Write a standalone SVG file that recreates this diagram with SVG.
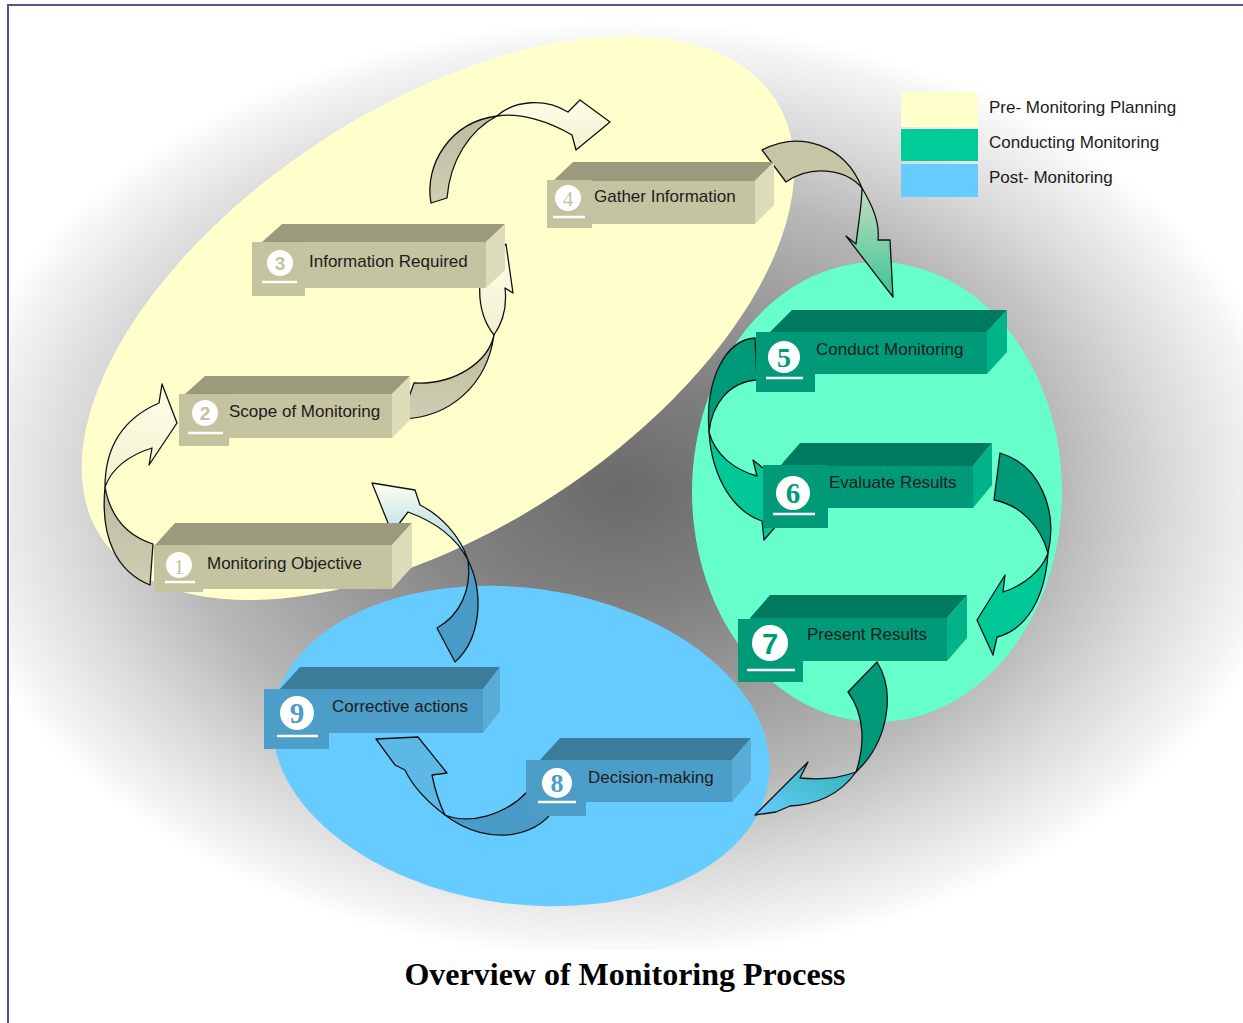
<svg xmlns="http://www.w3.org/2000/svg" width="1243" height="1023" viewBox="0 0 1243 1023">
  <defs>
    <radialGradient id="haze" gradientUnits="userSpaceOnUse" cx="620" cy="490" r="1" gradientTransform="translate(620 490) scale(680 470) translate(-620 -490)">
      <stop offset="0" stop-color="#6a6a6a"/>
      <stop offset="0.25" stop-color="#808080"/>
      <stop offset="0.5" stop-color="#a2a2a2"/>
      <stop offset="0.65" stop-color="#b8b8b8"/>
      <stop offset="0.8" stop-color="#d8d8d8"/>
      <stop offset="0.95" stop-color="#f4f4f4"/>
      <stop offset="1" stop-color="#ffffff"/>
    </radialGradient>
    <linearGradient id="tanBack" x1="0" y1="0" x2="0" y2="1">
      <stop offset="0" stop-color="#bdbca0"/>
      <stop offset="1" stop-color="#cfceb2"/>
    </linearGradient>
    <linearGradient id="paleFront" x1="0" y1="0" x2="0" y2="1">
      <stop offset="0" stop-color="#ffffe8"/>
      <stop offset="1" stop-color="#f0f0d0"/>
    </linearGradient>
    <linearGradient id="tanToGreen" x1="0" y1="0" x2="0" y2="1">
      <stop offset="0" stop-color="#c6dcc0"/>
      <stop offset="1" stop-color="#38c696"/>
    </linearGradient>
    <linearGradient id="greenToBlue" x1="1" y1="0" x2="0" y2="1">
      <stop offset="0" stop-color="#2fb3b0"/>
      <stop offset="1" stop-color="#66ccff"/>
    </linearGradient>
    <linearGradient id="blueToPale" x1="0" y1="1" x2="0" y2="0">
      <stop offset="0" stop-color="#9ccfe0"/>
      <stop offset="1" stop-color="#fffff0"/>
    </linearGradient>
    <style>
      .frame { stroke: #55558a; stroke-width: 2; fill: none; }
      .arrow path { stroke: #111; stroke-width: 1.3; stroke-linejoin: round; }
      .tan .top { fill: #9b9a7c; }
      .tan .front { fill: #c5c4a0; }
      .tan .side { fill: #dcdcb8; }
      .tan .badge { fill: #c4c39f; }
      .tan .num { fill: #c4c39f; }
      .grn .top { fill: #007a5e; }
      .grn .front { fill: #009a78; }
      .grn .side { fill: #00b389; }
      .grn .badge { fill: #009a78; }
      .grn .num { fill: #009a78; }
      .blu .top { fill: #3d7b9b; }
      .blu .front { fill: #4c9dc7; }
      .blu .side { fill: #59acd6; }
      .blu .badge { fill: #4c9dc7; }
      .blu .num { fill: #4c9dc7; }
      .disc { fill: #ffffff; }
      .rule { stroke: #ffffff; stroke-width: 2.5; }
      .label { font-family: "Liberation Sans", Arial, sans-serif; font-size: 17px; fill: #1c1c1c; }
      .serif { font-family: "Liberation Serif", "Times New Roman", serif; font-weight: bold; text-anchor: middle; }
      .sans { font-family: "Liberation Sans", Arial, sans-serif; font-weight: bold; text-anchor: middle; }
      .legend { font-family: "Liberation Sans", Arial, sans-serif; font-size: 17px; fill: #1c1c1c; }
      .title { font-family: "Liberation Serif", "Times New Roman", serif; font-size: 32px; font-weight: bold; fill: #000; text-anchor: middle; }
    </style>
  </defs>

  <!-- page -->
  <rect x="0" y="0" width="1243" height="1023" fill="#ffffff"/>
  <rect x="10" y="20" width="1233" height="930" fill="url(#haze)"/>
  <path class="frame" d="M8,1023 L8,5 L1243,5"/>

  <!-- phase regions -->
  <g id="phases">
    <ellipse id="phase-pre" cx="438" cy="318" rx="402" ry="212" transform="rotate(-33 438 318)" fill="#ffffcc"/>
    <ellipse id="phase-conduct" cx="877" cy="492" rx="185" ry="230" fill="#66ffcc"/>
    <ellipse id="phase-post" cx="521" cy="746" rx="250" ry="158" transform="rotate(8 521 746)" fill="#66ccff"/>
  </g>

  <!-- legend -->
  <g id="legend">
    <rect x="901" y="92" width="77" height="35" fill="#ffffcc"/>
    <rect x="901" y="129" width="77" height="32" fill="#00cc99"/>
    <rect x="901" y="164" width="77" height="33" fill="#66ccff"/>
    <text class="legend" x="989" y="113">Pre- Monitoring Planning</text>
    <text class="legend" x="989" y="148">Conducting Monitoring</text>
    <text class="legend" x="989" y="183">Post- Monitoring</text>
  </g>

  <!-- curved connectors: each is a twisted ribbon, back lobe then front lobe with head -->
  <g id="connectors" class="arrow">
    <g id="a1-2">
      <path fill="url(#tanBack)" d="M150,585 C118,572 100,540 105,487 C110,515 125,535 153,544 Z"/>
      <path fill="url(#paleFront)" d="M105,487 C105,450 120,420 159,403 L162,384 L177,423 L149,465 L152,448 C130,455 112,468 105,487 Z"/>
    </g>
    <g id="a2-3">
      <path fill="url(#tanBack)" d="M401,419 C450,418 487,385 494,335 C488,362 455,385 414,383 Z"/>
      <path fill="url(#paleFront)" d="M494,335 C482,320 477,300 481,273 L474,266 L506,244 L513,293 L505,288 C507,305 503,322 494,335 Z"/>
    </g>
    <g id="a3-4">
      <path fill="url(#tanBack)" d="M431,203 C424,165 450,122 497,116 C470,130 450,160 447,198 Z"/>
      <path fill="url(#paleFront)" d="M497,116 C515,100 545,98 568,112 L580,100 L610,122 L576,150 L572,135 C550,122 520,112 497,116 Z"/>
    </g>
    <g id="a4-5">
      <path fill="#c6c5a6" d="M762,150 C800,130 845,145 862,188 C845,168 810,165 786,182 Z"/>
      <path fill="url(#tanTo-Green)" d="M862,188 C872,205 880,222 878,240 L890,240 L893,297 L846,236 L856,244 C858,225 862,205 862,188 Z" style="fill:url(#tanToGreen)"/>
    </g>
    <g id="a5-6">
      <path fill="#009a78" d="M755,338 C725,340 705,380 709,432 C712,405 728,382 757,380 Z"/>
      <path fill="#00c896" d="M709,432 C712,480 735,512 762,521 L764,540 L800,498 L753,460 L757,476 C735,470 715,455 709,432 Z"/>
    </g>
    <g id="a6-7">
      <path fill="#009a78" d="M1000,453 C1040,465 1058,510 1048,553 C1040,525 1020,505 994,500 Z"/>
      <path fill="#00c896" d="M1048,553 C1045,600 1025,630 997,637 L993,655 L977,620 L1005,575 L1003,592 C1025,585 1042,570 1048,553 Z"/>
    </g>
    <g id="a7-8">
      <path fill="#009a78" d="M877,662 C895,690 890,740 856,772 C865,745 865,715 848,692 Z"/>
      <path fill="url(#greenToBlue)" d="M856,772 C840,795 815,805 790,806 L776,812 L755,815 L808,762 L800,778 C820,780 840,778 856,772 Z"/>
    </g>
    <g id="a8-9">
      <path fill="#4a9cc8" d="M557,803 C545,835 490,850 445,815 C470,825 505,815 527,792 Z"/>
      <path fill="#5cb9e6" d="M445,815 C425,800 412,785 405,770 L395,765 L376,739 L418,737 L447,773 L432,775 C435,790 440,805 445,815 Z"/>
    </g>
    <g id="a9-1">
      <path fill="#4a9cc8" d="M455,662 C480,640 485,595 468,560 C472,590 460,615 437,628 Z"/>
      <path fill="url(#blueToPale)" d="M468,560 C455,535 430,520 408,512 L392,533 L372,483 L415,490 L420,505 C440,515 460,535 468,560 Z"/>
    </g>
  </g>

  <!-- steps -->
  <g id="node-1" class="tan">
    <polygon class="top" points="155,545 175,523 412,523 392,545"/>
    <polygon class="side" points="392,545 412,523 412,567 392,589"/>
    <rect class="front" x="155" y="545" width="237" height="44"/>
    <rect class="badge" x="154" y="545" width="49" height="47"/>
    <circle class="disc" cx="179" cy="565" r="13"/>
    <text class="serif num" x="179" y="574" font-size="22" font-weight="normal" style="font-weight:normal">1</text>
    <line class="rule" x1="165" y1="582" x2="195" y2="582"/>
    <text class="label" x="207" y="569">Monitoring Objective</text>
  </g>
  <g id="node-2" class="tan">
    <polygon class="top" points="185,394 205,376 410,376 392,394"/>
    <polygon class="side" points="392,394 410,376 410,420 392,438"/>
    <rect class="front" x="185" y="394" width="207" height="44"/>
    <rect class="badge" x="179" y="394" width="50" height="52"/>
    <circle class="disc" cx="205" cy="413" r="13"/>
    <text class="sans num" x="205" y="420" font-size="19">2</text>
    <line class="rule" x1="188" y1="433" x2="223" y2="433"/>
    <text class="label" x="229" y="417">Scope of Monitoring</text>
  </g>
  <g id="node-3" class="tan">
    <polygon class="top" points="262,242 282,224 505,224 486,242"/>
    <polygon class="side" points="486,242 505,224 505,270 486,288"/>
    <rect class="front" x="262" y="242" width="224" height="46"/>
    <rect class="badge" x="252" y="242" width="53" height="54"/>
    <circle class="disc" cx="280" cy="263" r="13"/>
    <text class="sans num" x="280" y="270" font-size="19">3</text>
    <line class="rule" x1="262" y1="282" x2="297" y2="282"/>
    <text class="label" x="309" y="267">Information Required</text>
  </g>
  <g id="node-4" class="tan">
    <polygon class="top" points="553,181 573,162 774,162 755,181"/>
    <polygon class="side" points="755,181 774,162 774,205 755,224"/>
    <rect class="front" x="553" y="181" width="202" height="43"/>
    <rect class="badge" x="547" y="180" width="45" height="48"/>
    <circle class="disc" cx="568" cy="198" r="13"/>
    <text class="serif num" x="568" y="206" font-size="21" style="font-weight:normal">4</text>
    <line class="rule" x1="553" y1="217" x2="585" y2="217"/>
    <text class="label" x="594" y="202">Gather Information</text>
  </g>
  <g id="node-5" class="grn">
    <polygon class="top" points="770,332 792,310 1007,310 987,332"/>
    <polygon class="side" points="987,332 1007,310 1007,352 987,374"/>
    <rect class="front" x="770" y="332" width="217" height="42"/>
    <rect class="badge" x="756" y="332" width="59" height="60"/>
    <circle class="disc" cx="784" cy="357" r="16"/>
    <text class="serif num" x="784" y="367" font-size="28">5</text>
    <line class="rule" x1="766" y1="378" x2="803" y2="378"/>
    <text class="label" x="816" y="355">Conduct Monitoring</text>
  </g>
  <g id="node-6" class="grn">
    <polygon class="top" points="780,466 800,443 992,443 973,466"/>
    <polygon class="side" points="973,466 992,443 992,485 973,508"/>
    <rect class="front" x="780" y="466" width="193" height="42"/>
    <rect class="badge" x="763" y="465" width="65" height="63"/>
    <circle class="disc" cx="793" cy="493" r="17"/>
    <text class="serif num" x="793" y="503" font-size="29">6</text>
    <line class="rule" x1="773" y1="514" x2="815" y2="514"/>
    <text class="label" x="829" y="488">Evaluate Results</text>
  </g>
  <g id="node-7" class="grn">
    <polygon class="top" points="750,618 770,595 967,595 947,618"/>
    <polygon class="side" points="947,618 967,595 967,638 947,661"/>
    <rect class="front" x="750" y="618" width="197" height="43"/>
    <rect class="badge" x="738" y="619" width="65" height="63"/>
    <circle class="disc" cx="770" cy="643" r="18"/>
    <text class="sans num" x="770" y="654" font-size="29">7</text>
    <line class="rule" x1="747" y1="670" x2="795" y2="670"/>
    <text class="label" x="807" y="640">Present Results</text>
  </g>
  <g id="node-8" class="blu">
    <polygon class="top" points="540,760 560,738 751,738 732,760"/>
    <polygon class="side" points="732,760 751,738 751,780 732,802"/>
    <rect class="front" x="540" y="760" width="192" height="42"/>
    <rect class="badge" x="526" y="760" width="60" height="56"/>
    <circle class="disc" cx="557" cy="783" r="15"/>
    <text class="serif num" x="557" y="792" font-size="26">8</text>
    <line class="rule" x1="538" y1="802" x2="576" y2="802"/>
    <text class="label" x="588" y="783">Decision-making</text>
  </g>
  <g id="node-9" class="blu">
    <polygon class="top" points="280,689 300,667 500,667 483,689"/>
    <polygon class="side" points="483,689 500,667 500,711 483,733"/>
    <rect class="front" x="280" y="689" width="203" height="44"/>
    <rect class="badge" x="264" y="689" width="65" height="60"/>
    <circle class="disc" cx="297" cy="713" r="17"/>
    <text class="serif num" x="297" y="723" font-size="29">9</text>
    <line class="rule" x1="277" y1="736" x2="318" y2="736"/>
    <text class="label" x="332" y="712">Corrective actions</text>
  </g>

  <text class="title" x="625" y="985">Overview of Monitoring Process</text>
</svg>
